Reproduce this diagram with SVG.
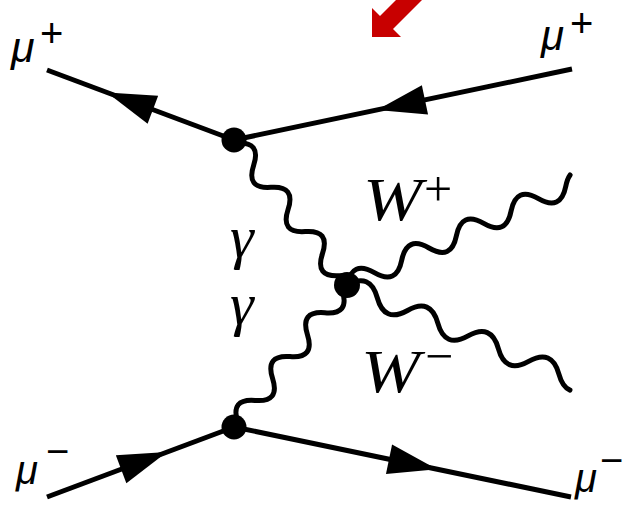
<svg xmlns="http://www.w3.org/2000/svg" xmlns:xlink="http://www.w3.org/1999/xlink" width="623" height="505" viewBox="0 0 623 505">
<style>
.fer{stroke:#000;stroke-width:5;fill:none}
.bos{stroke:#000;stroke-width:5;fill:none;stroke-linecap:round}
.vtx{fill:#000}
.ah{fill:#000}
.mu{font-family:"Liberation Sans",Arial,sans-serif;font-style:italic;fill:#000}
.sgn{font-family:"Liberation Sans",Arial,sans-serif;fill:#000}
.ser{font-family:"Liberation Serif","Times New Roman",serif;font-style:italic;fill:#000}
.sers{font-family:"Liberation Serif","Times New Roman",serif;fill:#000}
</style>
<defs>
<path id="ah" d="M0,0 L-49,-15 L-49,15 Z"/>
</defs>
<rect width="623" height="505" fill="#fff"/>
<g id="connectors">
<line class="fer" x1="47" y1="70" x2="234" y2="140"/>
<line class="fer" x1="572" y1="69" x2="234" y2="140"/>
<line class="fer" x1="47" y1="497" x2="234" y2="427"/>
<line class="fer" x1="234" y1="427" x2="571" y2="497"/>
<use href="#ah" class="ah" transform="translate(107,92.5) rotate(200.53)"/>
<use href="#ah" class="ah" transform="translate(377,110) rotate(168.1)"/>
<use href="#ah" class="ah" transform="translate(167,452.1) rotate(-20.53)"/>
<use href="#ah" class="ah" transform="translate(437,469.2) rotate(11.73)"/>
<path class="bos" transform="translate(234,140) rotate(52.1)" d="M4,0 Q18,-21 32,0 T60,0 T88,0 T116,0 T144,0 T172,0 Q177.9,-8.8 183.8,-10.2"/>
<path class="bos" transform="translate(234,427) rotate(-51.5)" d="M6,0 Q20,-21 34,0 T62,0 T90,0 T118,0 T146,0 T174,0 Q177.8,-5.7 181.5,-8.3"/>
<path class="bos" transform="translate(347,285) rotate(-24.27)" d="M0,0 Q15,-21 30,0 T60,0 T90,0 T120,0 T150,0 T180,0 T210,0 T240,0 Q244.3,-6.1 248.6,-8.6"/>
<path class="bos" transform="translate(347,285) rotate(22.8)" d="M0,0 Q16.42,-21 32.84,0 T65.68,0 T98.52,0 T131.36,0 T164.2,0 T197.04,0 T229.88,0 Q238.1,10.5 246.3,10.5"/>
</g>
<g id="v1"><circle class="vtx" cx="234" cy="140" r="12.5"/></g>
<g id="v2"><circle class="vtx" cx="347" cy="285" r="13"/></g>
<g id="v3"><circle class="vtx" cx="234" cy="427" r="12.5"/></g>
<g id="labels">
<text class="mu" x="11" y="62" font-size="43">μ</text>
<text class="sgn" x="40" y="47" font-size="40">+</text>
<text class="mu" x="541" y="50" font-size="42">μ</text>
<text class="sgn" x="570" y="37" font-size="40">+</text>
<text class="mu" x="16" y="484" font-size="40">μ</text>
<text class="sgn" x="46" y="465" font-size="40">−</text>
<text class="mu" x="575" y="492" font-size="40">μ</text>
<text class="sgn" x="600" y="474" font-size="40">−</text>
<text class="ser" transform="translate(363,220) scale(1.22,1.05)" font-size="58">W</text>
<text class="sers" x="424" y="206" font-size="50">+</text>
<text class="ser" transform="translate(361,392) scale(1.22,1.05)" font-size="58">W</text>
<text class="sers" x="425" y="373" font-size="50">−</text>
<text class="ser" x="230" y="257" font-size="60">γ</text>
<text class="ser" x="230" y="324" font-size="60">γ</text>
</g>
<polygon id="redarrow" fill="#c80000" points="372,8 372,37 401,37 393,29 424,-2 398,-2 380,16"/>
</svg>
